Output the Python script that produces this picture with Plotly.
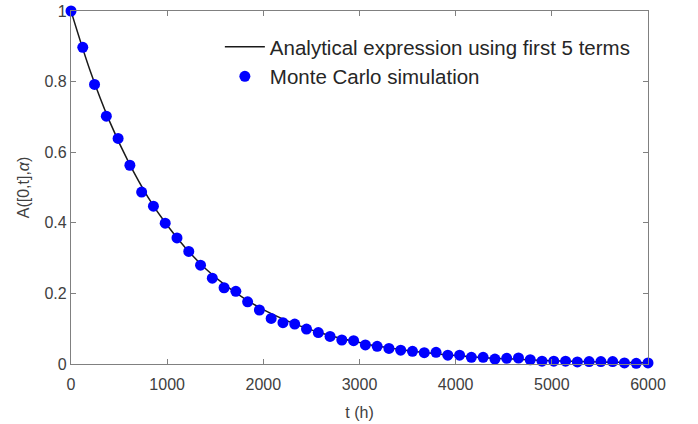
import plotly.graph_objects as go

# Monte Carlo simulation points (t in hours, 50 evenly spaced samples 0..6000)
mc_t = [i * 6000 / 49 for i in range(50)]
mc_a = [1.000, 0.897, 0.792, 0.702, 0.639, 0.563, 0.487, 0.447, 0.399, 0.357,
        0.319, 0.280, 0.243, 0.216, 0.206, 0.176, 0.153, 0.129, 0.117, 0.113,
        0.099, 0.089, 0.078, 0.068, 0.066, 0.054, 0.050, 0.044, 0.039, 0.036,
        0.032, 0.033, 0.025, 0.025, 0.019, 0.019, 0.014, 0.016, 0.017, 0.012,
        0.008, 0.008, 0.008, 0.006, 0.007, 0.007, 0.007, 0.003, 0.002, 0.003]

# Analytical expression (first 5 terms)
an_t = [0, 200, 400, 600, 800, 1000, 1200, 1400, 1600, 1800, 2000, 2200, 2400,
        2600, 2800, 3000, 3200, 3400, 3600, 3800, 4000, 4200, 4400, 4600, 4800,
        5000, 5200, 5400, 5600, 5800, 6000]
an_a = [1.000, 0.830, 0.688, 0.571, 0.473, 0.393, 0.326, 0.270, 0.224, 0.186,
        0.154, 0.128, 0.106, 0.088, 0.073, 0.061, 0.050, 0.042, 0.035, 0.029,
        0.024, 0.020, 0.016, 0.014, 0.011, 0.0093, 0.0077, 0.0064, 0.0053,
        0.0044, 0.0036]

x_ticks = [0, 1000, 2000, 3000, 4000, 5000, 6000]
y_ticks = [0, 0.2, 0.4, 0.6, 0.8, 1]
y_tick_text = ["0", "0.2", "0.4", "0.6", "0.8", "1"]

fig = go.Figure()
fig.add_trace(go.Scatter(
    x=an_t, y=an_a, mode="lines", line=dict(color="#1a1a1a", width=1.5, shape="spline"),
    name="Analytical expression using first 5 terms"))
fig.add_trace(go.Scatter(
    x=mc_t, y=mc_a, mode="markers", marker=dict(color="#0000ff", size=11),
    cliponaxis=False, name="Monte Carlo simulation"))

axis_common = dict(showline=True, linecolor="#808080", linewidth=1.2, mirror="allticks",
                   ticks="inside", ticklen=5, tickcolor="#808080", showgrid=False,
                   zeroline=False, automargin=False,
                   tickfont=dict(family="Liberation Sans, Arial", size=16, color="#404040"))

fig.update_layout(
    width=698, height=424,
    margin=dict(l=71, r=50, t=11, b=60),
    paper_bgcolor="white", plot_bgcolor="white",
    font=dict(family="Liberation Sans, Arial", color="#262626"),
    xaxis=dict(range=[0, 6000], tickvals=x_ticks, ticklabelstandoff=6,
               title=dict(text="t (h)", font=dict(size=16, color="#404040"), standoff=14),
               **axis_common),
    yaxis=dict(range=[0, 1], tickvals=y_ticks, ticktext=y_tick_text,
               title=dict(text="A([0,t],<i>α</i>)", font=dict(size=16, color="#404040"), standoff=10),
               **axis_common),
    legend=dict(x=0.258, y=0.955, xanchor="left", yanchor="top", bgcolor="rgba(0,0,0,0)",
                font=dict(size=20.5, color="#262626"), itemwidth=40, tracegroupgap=0),
    showlegend=True,
)

fig.write_html("out.html", config={"displayModeBar": False},
               post_script="document.body.style.margin='0';")
